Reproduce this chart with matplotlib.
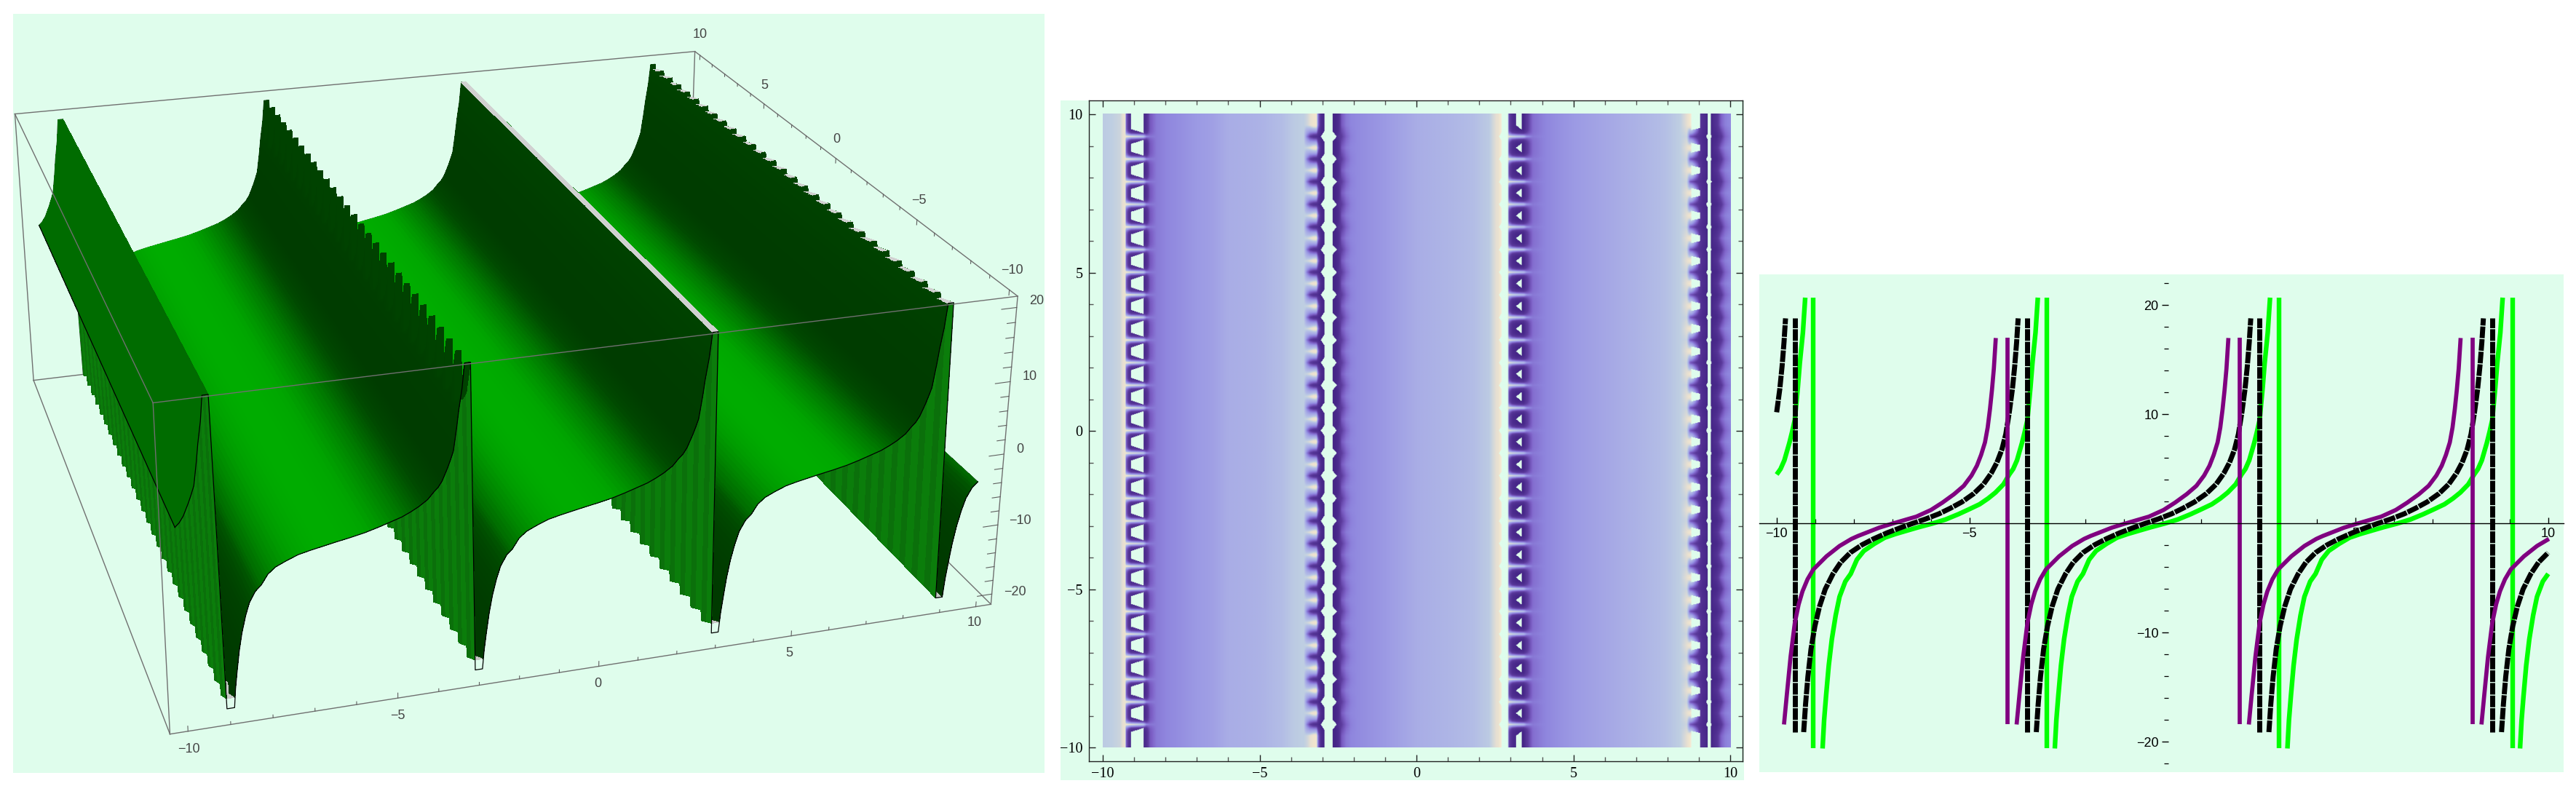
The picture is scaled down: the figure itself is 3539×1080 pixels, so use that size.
import numpy as np
import matplotlib
matplotlib.use("Agg")
import matplotlib.pyplot as plt
from matplotlib.colors import LinearSegmentedColormap
from matplotlib.patches import Rectangle
from matplotlib.ticker import FixedLocator, FixedFormatter

W, H = 3539, 1080
MINT = "#DFFDEC"

# one branch of each curve, t is the distance from the zero crossing
green_t = [-2.84, -2.80, -2.75, -2.68, -2.60, -2.50, -2.40, -2.25, -2.11, -1.95, -1.77, -1.50, -1.23, -0.95, -0.68,
           -0.35, 0.0, 0.35, 0.68, 0.95, 1.23, 1.45, 1.64, 1.85, 2.0, 2.1, 2.2, 2.33, 2.40, 2.47, 2.55, 2.60, 2.68, 2.74]
green_y = [-20.6, -18.0, -15.8, -13.0, -10.6, -8.4, -6.7, -5.3, -4.6, -3.3, -2.5, -1.85, -1.29, -0.95, -0.67,
           -0.33, 0.0, 0.38, 0.86, 1.3, 1.77, 2.3, 2.84, 3.6, 4.5, 5.0, 5.8, 7.4, 8.4, 9.5, 12.5, 14.7, 17.5, 20.7]
green_level = [58, 58, 58, 60, 62, 66, 72, 85, 108, 125, 140, 155, 164, 170, 172,
               172, 170, 165, 150, 135, 118, 100, 85, 72, 66, 63, 60, 60, 60, 60, 61, 62, 64, 66]
green_zero = [-12.0, -5.97, 0.05, 6.08, 12.11]
green_jump = [-9.05, -3.0, 3.03, 9.07]

black_t = [-2.81, -2.76, -2.70, -2.62, -2.52, -2.40, -2.25, -2.05, -1.85, -1.6, -1.3, -1.0, -0.65, -0.3, 0.0,
           0.35, 0.7, 1.0, 1.3, 1.6, 1.85, 2.05, 2.2, 2.33, 2.43, 2.52, 2.6, 2.66, 2.71, 2.75]
black_y = [-19.1, -16.5, -14.0, -11.5, -9.4, -7.6, -6.0, -4.6, -3.55, -2.66, -1.95, -1.4, -0.85, -0.38, 0.0,
           0.42, 0.9, 1.42, 2.0, 2.75, 3.6, 4.6, 5.6, 6.8, 8.2, 10.2, 12.3, 14.4, 16.6, 18.8]
black_zero = [-12.52, -6.49, -0.46, 5.57, 11.6]
black_jump = [-9.53, -3.5, 2.52, 8.56]

purple_t = [-2.81, -2.74, -2.64, -2.53, -2.43, -2.33, -2.2, -2.05, -1.71, -1.37, -1.06, -0.89, -0.34, 0.0, 0.62,
            1.0, 1.3, 1.6, 1.85, 2.05, 2.19, 2.3, 2.4, 2.47, 2.53, 2.58, 2.63, 2.68]
purple_y = [-18.4, -15.8, -12.2, -9.1, -7.4, -6.2, -5.1, -4.2, -3.0, -2.05, -1.4, -1.13, -0.37, 0.0, 0.64,
            1.25, 1.93, 2.7, 3.46, 4.4, 5.3, 6.3, 7.44, 8.8, 10.5, 12.2, 14.2, 17.0]
purple_zero = [-7.0, -0.97, 5.05, 11.08]
purple_jump = [-4.01, 2.01, 8.05]

# density plot, value along x on the grid rows and half way between them
dens_x = [-10, -9.7, -9.45, -9.3, -9.26, -9.18, -9.1, -8.9, -8.72, -8.62, -8.5, -8.3, -8.0, -7.5, -6.5, -6.0, -5.0,
          -4.3, -3.9, -3.6, -3.5, -3.4, -3.3, -3.2, -3.15, -3.05, -2.97, -2.6, -2.5, -2.4, -2.25, -2.1, -1.9, -1.0,
          0.0, 1.0, 1.8, 2.3, 2.6, 2.7, 2.75, 2.85, 2.9, 2.93, 3.05, 3.2, 3.4, 3.5, 3.7, 4.1, 4.5, 5.5, 7.0, 8.0,
          8.4, 8.61, 8.7, 8.75, 9.03, 9.1, 9.26, 9.36, 9.56, 9.7, 9.83, 10]
dens_mid = [4.5, 5, 6, 10, -8, -14, -17, -18, -18, -15, -9, -6, -5, -4, -2, 0, 1,
            3, 4.5, 5, 6, 8, 11, 12, -6, -16, -18, -18, -16, -9, -6, -5, -4.5, -3,
            0, 1.5, 3, 4.5, 9, 16, 18, 14, 14, -10, -16, -18, -18, -13, -7, -5, -4, -2, 1, 3.5,
            5, 8, 12, 16, -12, -15, -17, -18, -14, -8, -5.5, -4.5]
dens_node = [4.5, 5, 6, 10, 12, 11, 10, 8, 6, -4, -6, -6, -5, -4, -2, 0, 1,
             3, 4.5, 5, -6, -12, -15, -16, -16, -18, -18, -18, -14, -12, -8, -5.5, -4.5, -3,
             0, 1.5, 3, 4.5, 9, 16, 18, 14, 12, 10, 8, 6, 4, -3, -6, -5, -4, -2, 1, 3.5,
             5, 6, -8, -10, -15, -16, -18, -18, -17, -13, -8, -5.5]
dens_value = [-20, -12, -8, -5, -3, 0, 3, 5, 8, 12, 20]
dens_color = ["#3E1F80", "#5B3A9C", "#7E62C8", "#8F86DE", "#9C9AE4", "#A9ADE6", "#B3BDE6", "#BFCFE2", "#E6DFD2",
              "#F2E6CE", "#F8F4E8"]
grid_cells = 28

tick_major = [-10, -5, 0, 5, 10]
tick_major_text = ["\u221210", "\u22125", "0", "5", "10"]
z_major_text = ["\u221220", "\u221210", "0", "10", "20"]
# where the labels of the surface box stand, in pixels
x_label_px = [(259, 1030), (546, 983), (821, 939), (1084, 897), (1339, 856)]
y_label_px = [(1390, 372), (1262, 275), (1149, 191), (1050, 117), (962, 48)]
z_label_px = [(1394, 813), (1401, 716), (1401, 618), (1415, 518), (1424, 413)]


def px_rect(x0, y0, x1, y1):
    return [x0 / W, 1 - y1 / H, (x1 - x0) / W, (y1 - y0) / H]


fig = plt.figure(figsize=(W / 100, H / 100), dpi=100)
for box in [(18, 19, 1435, 1062), (1457, 138, 2396, 1072)]:
    r = px_rect(*box)
    fig.add_artist(Rectangle((r[0], r[1]), r[2], r[3], transform=fig.transFigure, color=MINT, lw=0, zorder=-1))

# ---------- left: surface ----------
side = 1417
ax1 = fig.add_axes(px_rect(18, 540 - side / 2, 18 + side, 540 + side / 2), projection="3d", computed_zorder=False)
ax1.set_axis_off()
ax1.patch.set_visible(False)
bx = 10.42
zlo, zhi = -21.5, 21.5

ridge_valley = [None, 14.5, None, 20.0]
ridge_tooth = [None, [1.0, 0.25, 0.0], None, [1.0, 0.5, 0.0]]
trough_valley = [-19.2, -19.2, -19.2, None]
trough_tooth = [0.0, 0.5, 1.0]
ridge_gray = [0, 0, 1, 2]  # 1 a whole band, 2 only the tooth tips

step = 20 / grid_cells
y_rows = []
for k in range(grid_cells):
    y_rows += [-10 + step * k, -10 + step * (k + 0.45), -10 + step * (k + 0.9)]
y_rows = np.array(y_rows + [10.0])

# columns of the mesh, three to each step of the curve
base_t = np.array(green_t)
idx = np.arange(0, len(base_t) - 1 + 1e-6, 1 / 3)
fine_t = np.interp(idx, np.arange(len(base_t)), base_t)
fine_y = np.interp(fine_t, base_t, green_y)
fine_l = np.interp(fine_t, base_t, green_level)
fine_t = np.concatenate([[-3.02], fine_t, [2.88]])
fine_y = np.concatenate([[fine_y[0]], fine_y, [fine_y[-1]]])
fine_l = np.concatenate([[fine_l[0]], fine_l, [fine_l[-1]]])

sx, sz, slev, sridge, strough = [], [], [], [], []
for k, x0 in enumerate(green_zero):
    for i in range(len(fine_t)):
        x = x0 + fine_t[i]
        if x < -10.02 or x > 10.02:
            continue
        sx.append(x)
        sz.append(fine_y[i])
        slev.append(108 if k == 0 else fine_l[i])
        sridge.append(k if fine_t[i] >= 2.55 and k < 4 else -1)
        strough.append(k - 1 if fine_t[i] <= -2.68 and k > 0 else -1)
sx = np.array(sx)
sz = np.array(sz)
X, Y = np.meshgrid(sx, y_rows)
Z = np.tile(sz, (len(y_rows), 1))
for j in range(len(y_rows)):
    for i in range(len(sx)):
        if sridge[i] >= 0 and ridge_valley[sridge[i]] is not None:
            f = ridge_tooth[sridge[i]][j % 3]
            Z[j, i] = f * sz[i] + (1 - f) * min(sz[i], ridge_valley[sridge[i]])
        if strough[i] >= 0 and trough_valley[strough[i]] is not None:
            f = trough_tooth[j % 3]
            Z[j, i] = f * sz[i] + (1 - f) * max(sz[i], trough_valley[strough[i]])

fc = np.zeros(X.shape + (4,))
fc[..., 3] = 1
for i in range(len(sx) - 1):
    fc[:, i, 1] = (slev[i] + slev[i + 1]) / 2 / 255
    if sz[i] > 15 and sz[i + 1] < -15:  # the jump between two branches
        fc[:, i, 0] = 11 / 255
        fc[:, i, 1] = 125 / 255
        fc[:, i, 2] = 11 / 255
        fc[1::3, i, 1] = 112 / 255
for k, x0 in enumerate(green_zero[:4]):
    i = np.argmin(abs(sx - (x0 + 2.74)))
    if ridge_gray[k] == 1:
        fc[:, i, :3] = 0.82
    if ridge_gray[k] == 2:
        fc[0::3, i, :3] = 0.82
        fc[1::3, i, :3] = 0.82
for k, x0 in enumerate(green_zero[1:]):
    i = np.argmin(abs(sx - (x0 - 3.02)))
    fc[y_rows < -9.2, i, :3] = 0.78

ax1.plot_surface(X, Y, Z, facecolors=fc, rstride=1, cstride=1, shade=False, linewidth=0, antialiased=False, zorder=2)

# outline of the surface
ax1.plot(sx, np.full(len(sx), -10.0), sz, color="black", lw=0.9, zorder=5)
ax1.plot(sx, np.full(len(sx), 10.0), sz, color="#0a300a", lw=0.9, zorder=1)
ax1.plot([-10, -10], [-10, 10], [sz[0], sz[0]], color="black", lw=0.9, zorder=5)
ax1.plot([10, 10], [-10, 10], [sz[-1], sz[-1]], color="black", lw=0.9, zorder=1)

# box
corners = {"A": (-bx, bx, zhi), "B": (bx, bx, zhi), "C": (bx, -bx, zhi), "D": (-bx, -bx, zhi),
           "E": (-bx, bx, zlo), "F": (bx, bx, zlo), "G": (bx, -bx, zlo), "H": (-bx, -bx, zlo)}
corner_px = {"A": (20.3, 157), "B": (954.3, 70.2), "C": (1398.2, 406.3), "D": (210.8, 554.4),
             "E": (46.2, 521.3), "F": (943.2, 416.7), "G": (1361.2, 829.9), "H": (233, 1009)}
for a, b, zo in [("A", "B", 1), ("B", "C", 1), ("A", "E", 1), ("E", "H", 1), ("E", "F", 1), ("F", "G", 1), ("B", "F", 1),
                 ("A", "D", 5), ("D", "C", 5), ("D", "H", 5), ("H", "G", 5), ("C", "G", 5)]:
    p, q = corners[a], corners[b]
    ax1.plot([p[0], q[0]], [p[1], q[1]], [p[2], q[2]], color="#707070", lw=1.0, zorder=zo)

# ticks and labels, the x and y ticks stand along z, the z ticks along x
for v in range(-10, 11):
    d = 0.7 if v % 5 == 0 else 0.4
    ax1.plot([v, v], [-bx, -bx], [zlo, zlo + d], color="#606060", lw=0.8, zorder=5)
    ax1.plot([bx, bx], [v, v], [zhi, zhi - d], color="#606060", lw=0.8, zorder=5)
for v in range(-20, 21, 2):
    d = 0.4 if v % 10 == 0 else 0.22
    ax1.plot([bx, bx - d], [-bx, -bx], [v, v], color="#606060", lw=0.8, zorder=5)
label_kw = dict(fontsize=13, family="Liberation Sans", color="#444444", ha="center", va="center")
for places, texts in [(x_label_px, tick_major_text), (y_label_px, tick_major_text), (z_label_px, z_major_text)]:
    for (px, py), s in zip(places, texts):
        fig.text(px / W, 1 - py / H, s, **label_kw)

# camera fitted to the box corners
rows, rhs = [], []
for name in corners:
    cx, cy, cz = corners[name]
    px, py = corner_px[name]
    u, v = ax1.transData.inverted().transform((px, H - py))
    rows.append([cx, cy, cz, 1, 0, 0, 0, 0, -u * cx, -u * cy, -u * cz])
    rows.append([0, 0, 0, 0, cx, cy, cz, 1, -v * cx, -v * cy, -v * cz])
    rhs += [u, v]
sol = np.linalg.lstsq(np.array(rows), np.array(rhs), rcond=None)[0]
cam = np.array([sol[:4], sol[4:8], [0, 0, 0, -1], [sol[8], sol[9], sol[10], 1]])
ax1.get_proj = lambda: cam

# ---------- middle: density ----------
ax2 = fig.add_axes(px_rect(1496, 138, 2394, 1046))
ax2.set_facecolor(MINT)
xs = np.linspace(-10, 10, 1000)
ys = np.linspace(-10, 10, 1000)
mid_row = np.interp(xs, dens_x, dens_mid)
node_row = np.interp(xs, dens_x, dens_node)
dist = np.abs((ys + 10) / step - np.round((ys + 10) / step)) * 2
dist[(ys > 10 - step / 2) | (ys < -10 + step / 2)] = 1.0
mix_bar = (1 - dist) ** 4
mix_spike = 1 - dist
# pale bars where the grid row is higher, purple spikes where it is lower
mix = np.where(node_row[None, :] > mid_row[None, :], mix_bar[:, None], mix_spike[:, None])
img = mix * node_row[None, :] + (1 - mix) * mid_row[None, :]

# holes: (left edge, right edge) as they change with the distance from a grid row
holes = [([0.29, 0.65], [-8.70, -9.10], [0.29, 0.65], [-8.70, -8.70], 0.29),
         ([0.0, 0.45], [-3.06, -2.95], [0.0, 0.45], [-2.55, -2.69], -1),
         ([0.6, 1.0], [3.34, 3.16], [0.6, 1.0], [3.34, 3.34], 0.6),
         ([0.0, 0.4], [2.62, 2.71], [0.0, 0.4], [2.90, 2.90], -1),
         ([0.57, 0.75], [8.75, 8.75], [0.57, 0.75], [8.75, 9.03], 0.57),
         ([0.0, 0.2], [9.22, 9.26], [0.0, 0.2], [9.40, 9.36], -1)]
mask = np.zeros(img.shape, dtype=bool)
for dl, xl, dr, xr, dmin in holes:
    left = np.interp(dist, dl, xl)
    right = np.interp(dist, dr, xr)
    mask |= (xs[None, :] > left[:, None]) & (xs[None, :] < right[:, None]) & (dist[:, None] > dmin)

stops = [(v + 20) / 40 for v in dens_value]
cmap = LinearSegmentedColormap.from_list("dens", list(zip(stops, dens_color)), N=512)
cmap.set_bad(MINT)
ax2.imshow(np.ma.array(img, mask=mask), extent=(-10, 10, -10, 10), origin="lower", aspect="auto", cmap=cmap,
           vmin=-20, vmax=20, interpolation="bilinear")
ax2.set_xlim(-10.44, 10.39)
ax2.set_ylim(-10.43, 10.44)
for ax_set in (ax2.xaxis, ax2.yaxis):
    ax_set.set_major_locator(FixedLocator(tick_major))
    ax_set.set_major_formatter(FixedFormatter(tick_major_text))
    ax_set.set_minor_locator(FixedLocator(list(range(-10, 11))))
ax2.tick_params(which="both", direction="in", top=True, right=True, color="#222222", width=1.0)
ax2.tick_params(which="major", length=6.5, labelsize=14.5, pad=6)
ax2.tick_params(which="minor", length=4.5, color="#555555")
for lab in ax2.get_xticklabels() + ax2.get_yticklabels():
    lab.set_family("Liberation Serif")
for sp in ax2.spines.values():
    sp.set_color("#222222")
    sp.set_linewidth(1.0)

# ---------- right: curves ----------
ax3 = fig.add_axes(px_rect(2417, 377, 3522, 1061))
ax3.set_facecolor(MINT)
ax3.set_xlim(-10.45, 10.40)
ax3.set_ylim(-22.77, 22.83)
curves = [(green_t, green_y, green_zero, green_jump, "#00FF00", 4.6, None, (-20.6, 20.7)),
          (black_t, black_y, black_zero, black_jump, "#000000", 5.0, (2.3, 0.2), (-19.1, 18.8)),
          (purple_t, purple_y, purple_zero, purple_jump, "#800080", 4.1, None, (-18.4, 17.0))]
for t, y, zeros, jumps, col, lw, dash, ends in curves:
    kw = dict(color=col, lw=lw, solid_capstyle="butt", dash_capstyle="butt", solid_joinstyle="round")
    if dash:
        kw["dashes"] = dash
    t, y = np.array(t), np.array(y)
    for x0 in zeros:
        keep = (x0 + t >= -10.02) & (x0 + t <= 10.02)
        ax3.plot(x0 + t[keep], y[keep], **kw)
    for xj in jumps:
        ax3.plot([xj, xj], ends, **kw)
ax3.spines["top"].set_visible(False)
ax3.spines["right"].set_visible(False)
ax3.spines["bottom"].set_position(("data", 0))
ax3.spines["left"].set_position(("data", 0.15))
ax3.spines["left"].set_visible(False)
ax3.spines["bottom"].set_linewidth(1.0)
ax3.xaxis.set_major_locator(FixedLocator(tick_major))
ax3.xaxis.set_major_formatter(FixedFormatter(["\u221210", "\u22125", "", "5", "10"]))
ax3.xaxis.set_minor_locator(FixedLocator([v for v in range(-10, 11) if v % 5]))
ax3.yaxis.set_major_locator(FixedLocator([-20, -10, 10, 20]))
ax3.yaxis.set_major_formatter(FixedFormatter(["\u221220", "\u221210", "10", "20"]))
ax3.yaxis.set_minor_locator(FixedLocator([v for v in range(-22, 23, 2) if v % 10]))
ax3.tick_params(axis="x", which="major", direction="in", length=6, width=1.0, labelsize=13, pad=4)
ax3.tick_params(axis="x", which="minor", direction="in", length=4.2, width=0.9)
ax3.tick_params(axis="y", which="major", direction="out", length=6.5, width=1.0, labelsize=13, pad=3)
ax3.tick_params(axis="y", which="minor", direction="out", length=4.2, width=0.9)
for lab in ax3.get_xticklabels() + ax3.get_yticklabels():
    lab.set_family("Liberation Sans")

fig.savefig("out.png", dpi=100)
